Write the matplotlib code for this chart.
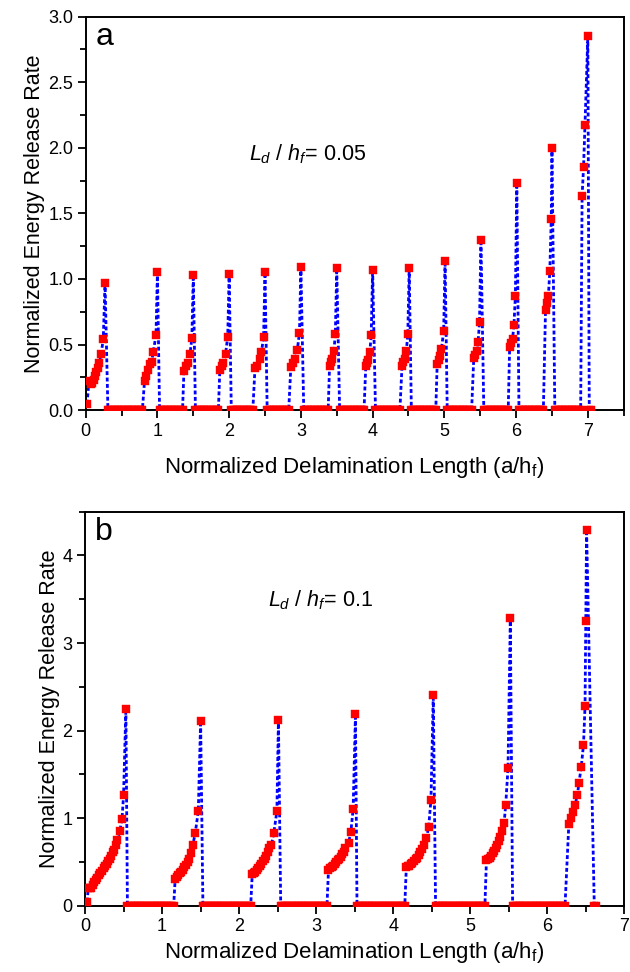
import numpy as numpy
import matplotlib
matplotlib.use("Agg")
import matplotlib.pyplot as plt
from matplotlib.ticker import MultipleLocator, FormatStrFormatter

plt.rcParams["font.family"] = ["Liberation Sans", "DejaVu Sans"]
plt.rcParams["mathtext.fontset"] = "custom"
plt.rcParams["mathtext.rm"] = "Liberation Sans"
plt.rcParams["mathtext.it"] = "Liberation Sans:italic"

# ---- panel a : L_d / h_f = 0.05 ----
aRiseX = [
    [0.02, 0.045, 0.07, 0.09, 0.11, 0.13, 0.15, 0.17, 0.19, 0.215, 0.245, 0.27],
    [0.82, 0.84, 0.865, 0.89, 0.92, 0.94, 0.98, 1.00],
    [1.37, 1.40, 1.43, 1.455, 1.48, 1.50],
    [1.87, 1.90, 1.92, 1.95, 1.98, 2.00],
    [2.36, 2.39, 2.43, 2.45, 2.48, 2.50],
    [2.86, 2.89, 2.92, 2.95, 2.98, 3.00],
    [3.40, 3.42, 3.44, 3.46, 3.48, 3.50],
    [3.905, 3.92, 3.94, 3.96, 3.98, 4.00],
    [4.41, 4.43, 4.45, 4.47, 4.49, 4.51],
    [4.90, 4.92, 4.94, 4.96, 4.99, 5.01],
    [5.41, 5.43, 5.45, 5.47, 5.49, 5.51],
    [5.91, 5.93, 5.95, 5.97, 5.99, 6.01],
    [6.41, 6.43, 6.45, 6.47, 6.49, 6.50],
    [6.92, 6.94, 6.96, 7.00],
]
aRiseY = [
    [0.05, 0.22, 0.20, 0.21, 0.23, 0.26, 0.29, 0.32, 0.36, 0.43, 0.54, 0.97],
    [0.22, 0.26, 0.31, 0.35, 0.37, 0.44, 0.57, 1.05],
    [0.30, 0.34, 0.36, 0.43, 0.55, 1.03],
    [0.31, 0.34, 0.36, 0.43, 0.56, 1.04],
    [0.32, 0.34, 0.39, 0.44, 0.56, 1.05],
    [0.33, 0.36, 0.39, 0.46, 0.59, 1.09],
    [0.34, 0.37, 0.39, 0.45, 0.58, 1.08],
    [0.34, 0.36, 0.38, 0.44, 0.57, 1.07],
    [0.34, 0.37, 0.39, 0.45, 0.58, 1.08],
    [0.35, 0.38, 0.41, 0.47, 0.60, 1.14],
    [0.40, 0.42, 0.45, 0.52, 0.67, 1.30],
    [0.48, 0.51, 0.54, 0.65, 0.87, 1.73],
    [0.76, 0.82, 0.87, 1.06, 1.46, 2.00],
    [1.63, 1.85, 2.17, 2.85],
]
aZeroStart = [0.31, 1.03, 1.53, 2.03, 2.53, 3.04, 3.54, 4.04, 4.54, 5.04, 5.55, 6.04, 6.54, 7.02]
aZeroEnd = [0.80, 1.35, 1.85, 2.34, 2.84, 3.38, 3.88, 4.39, 4.88, 5.39, 5.89, 6.39, 6.90, 7.04]

# ---- panel b : L_d / h_f = 0.1 ----
bRiseX = [
    [0.03, 0.04, 0.06, 0.08, 0.10, 0.12, 0.14, 0.16, 0.18, 0.20, 0.22, 0.24, 0.26,
     0.28, 0.30, 0.32, 0.34, 0.36, 0.38, 0.40, 0.42, 0.45, 0.48, 0.50, 0.53],
    [1.17, 1.19, 1.21, 1.23, 1.25, 1.27, 1.29, 1.31, 1.33, 1.35, 1.37, 1.40, 1.43, 1.47, 1.50],
    [2.17, 2.19, 2.21, 2.23, 2.25, 2.27, 2.29, 2.31, 2.33, 2.35, 2.37, 2.39, 2.42, 2.45, 2.49, 2.51],
    [3.16, 3.18, 3.20, 3.22, 3.24, 3.26, 3.28, 3.30, 3.32, 3.34, 3.36, 3.38, 3.42, 3.45, 3.48, 3.51],
    [4.17, 4.19, 4.21, 4.23, 4.25, 4.27, 4.29, 4.31, 4.33, 4.35, 4.37, 4.40, 4.43, 4.46, 4.49, 4.52],
    [5.21, 5.23, 5.25, 5.27, 5.29, 5.31, 5.33, 5.35, 5.37, 5.39, 5.41, 5.44, 5.46, 5.49, 5.52],
    [6.28, 6.31, 6.34, 6.36, 6.39, 6.41, 6.44, 6.47, 6.49, 6.50, 6.51],
]
bRiseY = [
    [0.05, 0.21, 0.20, 0.21, 0.24, 0.27, 0.30, 0.32, 0.35, 0.38, 0.40, 0.43, 0.46,
     0.48, 0.51, 0.54, 0.57, 0.61, 0.64, 0.69, 0.75, 0.85, 0.99, 1.27, 2.25],
    [0.31, 0.33, 0.35, 0.37, 0.39, 0.41, 0.44, 0.47, 0.50, 0.54, 0.60, 0.70, 0.83, 1.08, 2.11],
    [0.36, 0.38, 0.39, 0.41, 0.43, 0.45, 0.48, 0.51, 0.54, 0.57, 0.61, 0.66, 0.70, 0.83, 1.08, 2.12],
    [0.41, 0.43, 0.44, 0.46, 0.48, 0.50, 0.52, 0.54, 0.56, 0.59, 0.62, 0.66, 0.72, 0.84, 1.11, 2.19],
    [0.44, 0.45, 0.46, 0.48, 0.49, 0.51, 0.53, 0.55, 0.58, 0.61, 0.65, 0.70, 0.77, 0.90, 1.21, 2.41],
    [0.52, 0.54, 0.55, 0.57, 0.60, 0.63, 0.66, 0.70, 0.74, 0.79, 0.85, 0.95, 1.15, 1.57, 3.29],
    [0.94, 1.00, 1.07, 1.15, 1.26, 1.40, 1.58, 1.84, 2.28, 3.25, 4.29],
]
bZeroStart = [0.55, 1.53, 2.54, 3.53, 4.55, 5.55, 6.61]
bZeroEnd = [1.15, 2.15, 3.14, 4.15, 5.19, 6.24, 6.63]


def BuildSeries(riseX, riseY, zeroStart, zeroEnd, step=0.02):
    """Join each rising branch with the flat zero run that follows it."""
    xs, ys = [], []
    for rx, ry, z0, z1 in zip(riseX, riseY, zeroStart, zeroEnd):
        xs.extend(rx)
        ys.extend(ry)
        zx = numpy.arange(z0, z1 + 1e-9, step)
        xs.extend(zx)
        ys.extend(numpy.zeros_like(zx))
    return numpy.array(xs), numpy.array(ys)


def DrawPanel(ax, x, y, letter, ratioText, textPos, xlim, ylim, yMajor, yMinor, yFmt, xPad):
    ax.plot(x, y, color="#0000ff", linestyle=(0, (1.4, 0.9)), linewidth=2.0, zorder=2)
    ax.plot(x, y, linestyle="none", marker="s", markersize=5.3,
            markerfacecolor="#ff0000", markeredgecolor="#ff0000", markeredgewidth=0.3, zorder=3)

    ax.set_xlim(*xlim)
    ax.set_ylim(*ylim)
    ax.xaxis.set_major_locator(MultipleLocator(1))
    ax.xaxis.set_minor_locator(MultipleLocator(0.5))
    ax.yaxis.set_major_locator(MultipleLocator(yMajor))
    ax.yaxis.set_minor_locator(MultipleLocator(yMinor))
    ax.yaxis.set_major_formatter(FormatStrFormatter(yFmt))
    ax.tick_params(which="both", direction="out", top=False, right=False, width=1.3,
                   labelsize=13, pad=3)
    ax.tick_params(which="major", length=6)
    ax.tick_params(which="minor", length=4)
    for side in ax.spines.values():
        side.set_linewidth(1.4)

    ax.set_xlabel(r"Normalized Delamination Length (a/h$_\mathregular{f}$)", fontsize=16, labelpad=xPad)
    ax.set_ylabel("Normalized Energy Release Rate", fontsize=15.5, labelpad=2)
    ax.text(0.018, 0.985, letter, transform=ax.transAxes, fontsize=23, ha="left", va="top")
    ax.text(textPos[0], textPos[1], r"$L_d$ / $h_f$= " + ratioText, fontsize=15.5,
            ha="left", va="center")


if __name__ == "__main__":
    fig = plt.figure(figsize=(6.3, 9.72), dpi=100)
    axA = fig.add_axes([0.136, 0.578, 0.854, 0.405])
    axB = fig.add_axes([0.135, 0.068, 0.856, 0.4057])

    ax_, ay_ = BuildSeries(aRiseX, aRiseY, aZeroStart, aZeroEnd)
    DrawPanel(axA, ax_, ay_, "a", "0.05", (2.28, 1.95), (0, 7.5), (0, 3.0), 0.5, 0.25, "%.1f", 11)

    bx_, by_ = BuildSeries(bRiseX, bRiseY, bZeroStart, bZeroEnd)
    DrawPanel(axB, bx_, by_, "b", "0.1", (2.38, 3.49), (0, 7), (0, 4.5), 1, 0.5, "%d", 3)

    fig.savefig("out.png", dpi=100)
